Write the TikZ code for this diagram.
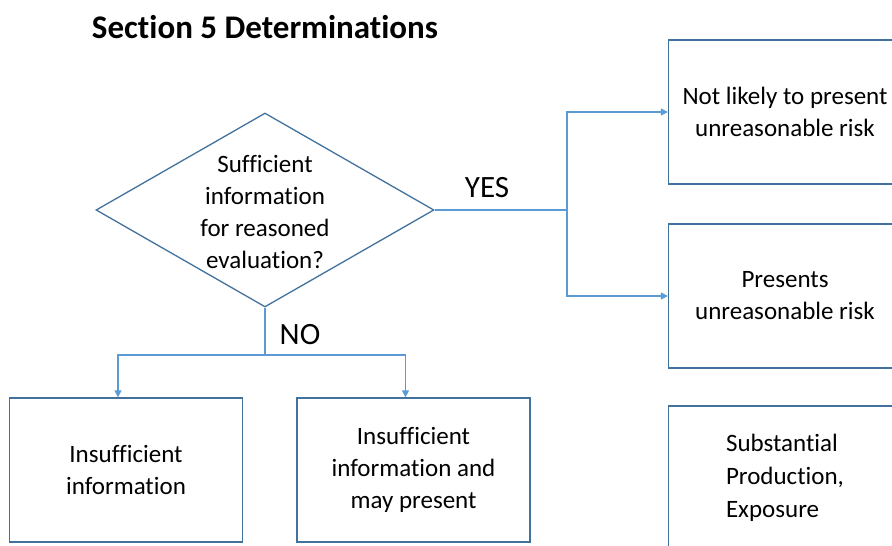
\documentclass[tikz,border=0pt]{standalone}
\usepackage{fontspec}
\setmainfont{Carlito}[Ligatures=NoCommon]
\usepackage{xcolor}
\usetikzlibrary{shapes.geometric,arrows.meta,positioning}

\definecolor{boxblue}{RGB}{65,113,156}
\definecolor{lineblue}{RGB}{91,155,213}

\begin{document}
\begin{tikzpicture}[
  x=1pt, y=-1pt,
  every node/.style={font=\fontsize{25}{32}\selectfont},
  block/.style={rectangle, draw=boxblue, line width=1.3pt, align=center,
                minimum width=233pt, minimum height=144pt},
  decision/.style={diamond, draw=boxblue, line width=1.3pt,
                   minimum width=338pt, minimum height=194pt, inner sep=0pt},
  answer/.style={font=\fontsize{31}{36}\selectfont},
  arrow/.style={-{Triangle[length=7pt,width=7pt]}, draw=lineblue, line width=1.3pt},
  link/.style={draw=lineblue, line width=1.3pt}
]
\useasboundingbox (0,0) rectangle (892,546);
\clip (0,0) rectangle (892,546);

\node[font=\fontsize{33}{38}\selectfont\bfseries] (title) at (265,27) {Section 5 Determinations};

\node[decision] (query) at (265,210) {};
\node[align=center] (querytext) at (265,212)
      {Sufficient\\information\\for reasoned\\evaluation?};

\node[block] (notlikely) at (785,112) {Not likely to present\\unreasonable risk};
\node[block] (presents) at (785,296) {Presents\\unreasonable risk};
\node[block, align=left, font=\fontsize{25}{33}\selectfont] (substantial) at (785,478)
      {Substantial\\Production,\\Exposure};

\node[block] (insuff) at (126,470) {Insufficient\\information};
\node[block] (maypresent) at (413.5,470) {Insufficient\\information and\\may present};

\coordinate (yessplit) at (567,210);
\coordinate (nosplit) at (265,355);

\node[answer] (yes) at (487,188) {YES};
\node[answer] (no) at (300,335) {NO};

\draw[link] (query.east) -- (yessplit);
\draw[arrow] (yessplit) |- (notlikely.west);
\draw[arrow] (yessplit) |- (presents.west);
\draw[link] (query.south) -- (nosplit);
\draw[arrow] (nosplit) -| ([xshift=-8pt]insuff.north);
\draw[arrow] (nosplit) -| ([xshift=-8pt]maypresent.north);

\end{tikzpicture}
\end{document}
